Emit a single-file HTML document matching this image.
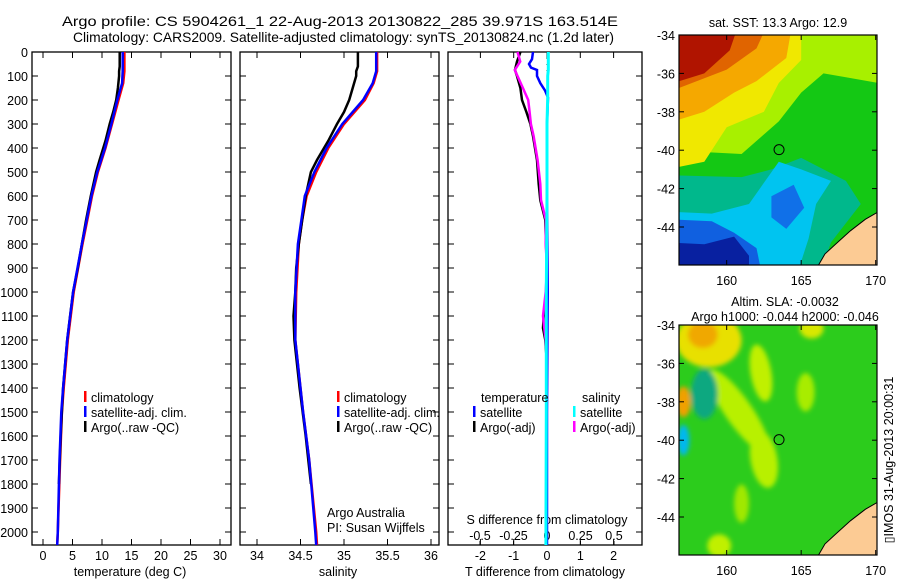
<!DOCTYPE html>
<html><head><meta charset="utf-8">
<style>
html,body{margin:0;padding:0;background:#fff;}
svg{display:block;font-family:"Liberation Sans",sans-serif;}
text{font-size:12.5px;fill:#000;}
</style></head>
<body>
<svg id="chart" width="900" height="580" viewBox="0 0 900 580" xmlns="http://www.w3.org/2000/svg">
<defs>
<clipPath id="clipSST"><rect x="679" y="35" width="198" height="230"/></clipPath>
<clipPath id="clipSLA"><rect x="679" y="325" width="198" height="230"/></clipPath>
<filter id="blur2"><feGaussianBlur stdDeviation="2.5"/></filter>
</defs>
<text x="62" y="26" textLength="556" lengthAdjust="spacingAndGlyphs" style="font-size:14px">Argo profile: CS 5904261_1 22-Aug-2013 20130822_285 39.971S 163.514E</text>
<text x="73" y="42" textLength="541" lengthAdjust="spacingAndGlyphs" style="font-size:14px">Climatology: CARS2009. Satellite-adjusted climatology: synTS_20130824.nc (1.2d later)</text>
<g id="g1"></g>
<g id="g2"></g>
<g id="g3"></g>
<g id="g4"></g>
<g id="g5"></g>
<text transform="translate(893,460) rotate(-90)" text-anchor="middle">▯IMOS 31-Aug-2013 20:00:31</text>
</svg>
<script>
// ---- profile data ----
const depthTicks = [0,100,200,300,400,500,600,700,800,900,1000,1100,1200,1300,1400,1500,1600,1700,1800,1900,2000];
const tTicks = [0,5,10,15,20,25,30];
const sTicks = [34,34.5,35,35.5,36];
const tdTicks = [-2,-1,0,1,2];
const sdTicks = [-0.5,-0.25,0,0.25,0.5];
const sdTickLabels = ["-0.5","-0.25","0","0.25","0.5"];

const climDepth = [0,80,130,200,300,400,500,600,700,800,1000,1200,1400,1500,1700,2000,2054];
const tempClim  = [13.8,13.8,13.6,12.8,11.7,10.6,9.3,8.3,7.5,6.7,5.2,4.2,3.5,3.2,2.9,2.5,2.4];
const tempSat   = [13.5,13.5,13.4,12.6,11.6,10.5,9.2,8.2,7.4,6.6,5.1,4.1,3.4,3.1,2.8,2.5,2.4];
const salClim   = [35.38,35.38,35.34,35.24,35.0,34.82,34.68,34.57,34.52,34.48,34.45,34.44,34.5,34.53,34.6,34.68,34.69];
const salSat    = [35.37,35.37,35.33,35.22,34.98,34.80,34.66,34.55,34.51,34.47,34.44,34.44,34.5,34.53,34.6,34.67,34.68];

const argoDepth = [0,60,80,100,150,200,250,300,370,450,500,600,700,800,900,1000,1100,1200,1400,1600,1800];
const tempArgo  = [13.0,13.0,12.9,12.9,12.7,12.4,11.9,11.3,10.6,9.6,9.0,8.1,7.3,6.6,5.9,5.1,4.6,4.1,3.4,3.0,2.7];
const salArgo   = [35.16,35.16,35.14,35.14,35.1,35.06,35.0,34.92,34.82,34.69,34.62,34.56,34.52,34.48,34.45,34.44,34.42,34.43,34.49,34.56,34.62];

const diffDepth = [0,20,40,75,100,150,200,250,300,350,450,550,617,700,800,900,1000,1100,1150,1200,1300];
const tDiffArgo = [-0.8,-0.85,-0.9,-0.96,-0.9,-0.8,-0.75,-0.62,-0.5,-0.42,-0.3,-0.25,-0.2,-0.05,-0.03,0,-0.02,-0.1,-0.12,-0.05,0];
const sDiffArgo = [-0.22,-0.21,-0.2,-0.24,-0.22,-0.18,-0.14,-0.13,-0.12,-0.1,-0.07,-0.05,-0.045,-0.008,-0.01,0,-0.01,-0.03,-0.02,-0.01,0];
const satDepth = [0,30,50,65,75,100,130,160,190,300,600,1000,1500,2054];
const tDiffSat = [-0.42,-0.45,-0.54,-0.48,-0.3,-0.3,-0.2,-0.06,0.03,0,0,0.02,0,0];
const sDiffSat = [0.01,0.01,0.01,0.01,0.01,0.005,0.005,0.005,0.005,0.0,0.0,-0.005,-0.005,-0.008];

// ---- map data ----
const sstLon0 = 156.8, sstLon1 = 170.1, sstLat0 = -34, sstLat1 = -45.97;
const argoLon = 163.514, argoLat = -39.971;

const NS = "http://www.w3.org/2000/svg";
function mk(tag, attrs, parent){ const e=document.createElementNS(NS,tag); for(const k in attrs) e.setAttribute(k,attrs[k]); parent.appendChild(e); return e; }
const yD = z => 52 + 0.24*z;
const xT = t => 43 + 5.9*t;
const xS = s => 257 + 87*(s-34);
const xTD = d => 547 + 33.3*d;
const xSD = d => 547 + 134*d;

function frame(g, x0, x1, name){
  const r = mk('rect',{x:x0,y:52,width:x1-x0,height:493,fill:'none',stroke:'#000','stroke-width':1.3},g);
  
  
  depthTicks.forEach(d=>{
    mk('line',{x1:x0,x2:x0+6,y1:yD(d),y2:yD(d),stroke:'#000'},g);
    mk('line',{x1:x1-6,x2:x1,y1:yD(d),y2:yD(d),stroke:'#000'},g);
  });
}
function xticks(g, vals, labels, fx, ylab){
  vals.forEach((v,i)=>{
    const x=fx(v);
    mk('line',{x1:x,x2:x,y1:545,y2:539,stroke:'#000'},g);
    mk('line',{x1:x,x2:x,y1:52,y2:58,stroke:'#000'},g);
    const t=mk('text',{x:x,y:ylab,'text-anchor':'middle'},g);
    t.textContent=labels[i];
    
    
  });
}
function line(g, depths, vals, fx, color, name, w){
  const pts = depths.map((d,i)=>fx(vals[i]).toFixed(1)+','+yD(d).toFixed(1)).join(' ');
  const p = mk('polyline',{points:pts,fill:'none',stroke:color,'stroke-width':w||2.5,'stroke-linejoin':'miter'},g);
  
  
}
function legendRow(g, x, y, color, label, name){
  mk('rect',{x:x,y:y-7,width:2.5,height:11,fill:color},g);
  const t=mk('text',{x:x+7,y:y+4},g);
  t.textContent=label;
  
  
}
function txt(g,x,y,s,name,anchor){
  const t=mk('text',{x:x,y:y,'text-anchor':anchor||'start'},g);
  t.textContent=s;
  
  
  return t;
}

// Panel 1
const g1=document.getElementById('g1');
frame(g1,32,231,'temperature-plot');
depthTicks.forEach(d=>{ txt(g1,28,yD(d)+5,String(d),'y-tick-label','end'); });
xticks(g1,tTicks,tTicks.map(String),xT,560);
txt(g1,130,576,'temperature (deg C)','x-axis-title','middle');
line(g1,climDepth,tempClim,xT,'#f00','temp-climatology-line');
line(g1,argoDepth,tempArgo,xT,'#000','temp-argo-line');
line(g1,climDepth,tempSat,xT,'#00f','temp-satellite-line');
legendRow(g1,84,398,'#f00','climatology','legend-climatology');
legendRow(g1,84,413,'#00f','satellite-adj. clim.','legend-satellite');
legendRow(g1,84,428,'#000','Argo(..raw -QC)','legend-argo');

// Panel 2
const g2=document.getElementById('g2');
frame(g2,240,439,'salinity-plot');
xticks(g2,sTicks,["34","34.5","35","35.5","36"],xS,560);
txt(g2,338,576,'salinity','x-axis-title','middle');
line(g2,climDepth,salClim,xS,'#f00','sal-climatology-line');
line(g2,argoDepth,salArgo,xS,'#000','sal-argo-line');
line(g2,climDepth,salSat,xS,'#00f','sal-satellite-line');
legendRow(g2,337,398,'#f00','climatology','legend-climatology');
legendRow(g2,337,413,'#00f','satellite-adj. clim.','legend-satellite');
legendRow(g2,337,428,'#000','Argo(..raw -QC)','legend-argo');
txt(g2,327,517,'Argo Australia','credit-argo-australia');
txt(g2,327,532,'PI: Susan Wijffels','credit-pi');

// Panel 3
const g3=document.getElementById('g3');
frame(g3,448,642,'difference-plot');
xticks(g3,tdTicks,tdTicks.map(String),xTD,560);
sdTicks.forEach((v,i)=>{ txt(g3,xSD(v),540,sdTickLabels[i],'s-diff-tick-label','middle'); mk('line',{x1:xSD(v),x2:xSD(v),y1:545,y2:541,stroke:'#000'},g3); });
txt(g3,547,524,'S difference from climatology','s-diff-axis-title','middle');
txt(g3,545,576,'T difference from climatology','t-diff-axis-title','middle');
mk('line',{x1:xTD(0),x2:xTD(0),y1:52,y2:545,stroke:'#000','stroke-dasharray':'1,5'},g3);
line(g3,diffDepth,tDiffArgo,xTD,'#000','t-diff-argo-line',2.5);
line(g3,diffDepth,sDiffArgo,xSD,'#f0f','s-diff-argo-line',2.5);
line(g3,satDepth,tDiffSat,xTD,'#00f','t-diff-satellite-line',2.5);
line(g3,satDepth,sDiffSat,xSD,'#0ff','s-diff-satellite-line',3);
txt(g3,481,402,'temperature','legend-temperature-header');
legendRow(g3,473,413,'#00f','satellite','legend-t-satellite');
legendRow(g3,473,428,'#000','Argo(-adj)','legend-t-argo');
txt(g3,582,402,'salinity','legend-salinity-header');
legendRow(g3,573,413,'#0ff','satellite','legend-s-satellite');
legendRow(g3,573,428,'#f0f','Argo(-adj)','legend-s-argo');

// Maps
const mx = lon => 679 + (lon-sstLon0)*14.9;
function my(lat, top){ return top + (-34-lat)*19.2; }
function poly(g, pts, color, top, name, stroke){
  const p=mk('polygon',{points:pts.map(q=>mx(q[0]).toFixed(1)+','+my(q[1],top).toFixed(1)).join(' '),fill:color},g);
  if(stroke){ p.setAttribute('stroke',stroke); p.setAttribute('stroke-width','1'); }
  
  
}
function ell(g, lon, lat, rlon, rlat, color, top, name, rot){
  const e=mk('ellipse',{cx:mx(lon),cy:my(lat,top),rx:rlon*14.9,ry:rlat*19.2,fill:color,transform:'rotate('+(rot||0)+' '+mx(lon)+' '+my(lat,top)+')'},g);
  
  
}
const lonTicks=[160,165,170], latTicks=[-34,-36,-38,-40,-42,-44];
const land=[[166,-46.2],[166.6,-45.4],[167.3,-44.9],[168.3,-44.2],[169.3,-43.6],[170.2,-43.2],[170.2,-46.2]];
function mapAxes(g, top, title1, title2){
  mk('rect',{x:679,y:top,width:198,height:230,fill:'none',stroke:'#000','stroke-width':1.2},g);
  latTicks.forEach(l=>{ const y=my(l,top); mk('line',{x1:679,x2:684,y1:y,y2:y,stroke:'#000'},g); mk('line',{x1:872,x2:877,y1:y,y2:y,stroke:'#000'},g); txt(g,675,y+5,String(l),'lat-tick-label','end'); });
  lonTicks.forEach(l=>{ const x=mx(l); mk('line',{x1:x,x2:x,y1:top,y2:top+5,stroke:'#000'},g); mk('line',{x1:x,x2:x,y1:top+230,y2:top+225,stroke:'#000'},g); txt(g,x,top+250,String(l),'lon-tick-label','middle'); });
  const c=mk('circle',{cx:mx(argoLon),cy:my(argoLat,top),r:5,fill:'none',stroke:'#000','stroke-width':1},g);
  
  
  if(title2){ txt(g,785,top-19,title1,'map-title','middle'); txt(g,785,top-4,title2,'map-subtitle','middle'); }
  else txt(g,778,top-8,title1,'map-title','middle');
}
// SST map
const g4=document.getElementById('g4');
const s4=mk('g',{'clip-path':'url(#clipSST)'},g4);
const T4=35;
poly(s4,[[156,-33],[171,-33],[171,-47],[156,-47]],'#14c814',T4,'sst-base');
poly(s4,[[156,-33],[171,-33],[170.2,-36.5],[168,-36.2],[166.5,-36],[165,-37],[163.5,-38.5],[161,-40.2],[156,-40]],'#a8f000',T4,'sst-yellowgreen');
poly(s4,[[156,-33],[165,-33],[165,-35.3],[163.5,-36.5],[162.5,-38],[160,-38.8],[158.5,-40.6],[156,-41]],'#f0e800',T4,'sst-yellow');
poly(s4,[[156,-33],[164.5,-33],[164,-35.2],[162,-36.4],[160.5,-37],[158.5,-38],[156,-38.6]],'#f5a800',T4,'sst-orange');
poly(s4,[[156,-33],[163,-33],[162,-34.7],[160,-35.8],[156,-37]],'#e06400',T4,'sst-darkorange');
poly(s4,[[156,-33],[161,-33],[160.2,-34.8],[158.5,-36],[156,-36.6]],'#b01400',T4,'sst-red');
poly(s4,[[156,-41.3],[161,-41.4],[163,-41],[165,-40.4],[168,-41.6],[169,-42.8],[167,-44.8],[166,-47],[156,-47]],'#00b88c',T4,'sst-teal');
poly(s4,[[156,-43.2],[159,-43.3],[161.5,-42.8],[163.5,-40.6],[165,-41],[167,-41.6],[166,-42.8],[165.5,-44.6],[164.5,-47],[156,-47]],'#00c4f0',T4,'sst-cyan');
poly(s4,[[156,-43.6],[159,-43.7],[160.5,-44.3],[162,-45.1],[162.5,-47],[156,-47]],'#1060e0',T4,'sst-blue');
poly(s4,[[163,-42.4],[164.5,-41.8],[165.2,-43],[164,-44.1],[163,-43.5]],'#1070e8',T4,'sst-blue-patch');
poly(s4,[[156,-44.8],[158.5,-44.9],[160.5,-44.5],[161.5,-45.5],[161.5,-47],[156,-47]],'#0820a0',T4,'sst-navy');
poly(s4,land,'#fccb94',T4,'sst-land','#000');
mapAxes(g4,T4,'sat. SST: 13.3 Argo: 12.9');
// SLA map
const g5=document.getElementById('g5');
const s5=mk('g',{'clip-path':'url(#clipSLA)'},g5);
const T5=325;
poly(s5,[[156,-33],[171,-33],[171,-47],[156,-47]],'#2ccc1c',T5,'sla-base');
const b5=mk('g',{filter:'url(#blur2)'},s5);
ell(b5,158.8,-34.8,2.2,1.4,'#e8e000',T5,'sla-yellow-nw');
ell(b5,158.4,-34.5,1.0,0.7,'#f0a800',T5,'sla-orange-nw');
ell(b5,160.8,-38.5,0.9,2.6,'#b8f000',T5,'sla-yg-band',-35);
ell(b5,162.3,-36.5,0.7,1.5,'#c0f000',T5,'sla-yg-band2',-10);
ell(b5,162.5,-41,0.9,1.5,'#b8f000',T5,'sla-yg-central',-10);
ell(b5,165.3,-37.5,0.6,1,'#a8ec00',T5,'sla-yg-east');
ell(b5,165.7,-34.2,0.8,0.5,'#d8e800',T5,'sla-yellow-n');
ell(b5,158.5,-37.6,0.9,1.3,'#10a880',T5,'sla-teal-w');
ell(b5,157.1,-38.0,0.5,0.8,'#f0a000',T5,'sla-orange-w');
ell(b5,157.1,-40.0,0.4,0.8,'#00b8f0',T5,'sla-cyan-w');
ell(b5,161,-43.3,0.5,1,'#a0e800',T5,'sla-yg-sw');
ell(b5,159.5,-45.5,0.8,0.6,'#c0f000',T5,'sla-yg-s');
poly(s5,land,'#fccb94',T5,'sla-land','#000');
mapAxes(g5,T5,'Altim. SLA: -0.0032','Argo h1000: -0.044 h2000: -0.046');
</script>
</body></html>
